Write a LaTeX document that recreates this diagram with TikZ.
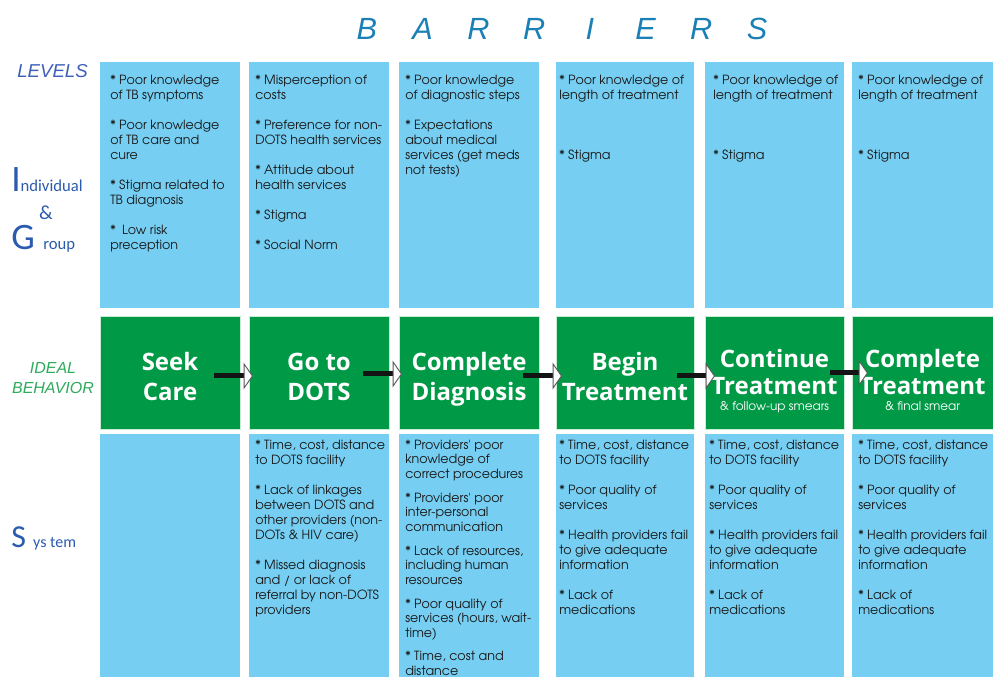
\documentclass[tikz,border=0pt]{standalone}
\usepackage{fontspec}
\usetikzlibrary{arrows.meta,fit}
\newfontfamily\bodyf{TeX Gyre Adventor}
\newfontfamily\headf{Open Sans}
\newfontfamily\titlef{Liberation Sans}
\newfontfamily\labf{Carlito}
\definecolor{boxblue}{RGB}{118,207,243}
\definecolor{boxgreen}{RGB}{0,154,70}
\definecolor{greenedge}{RGB}{200,235,212}
\definecolor{titleblue}{RGB}{27,128,181}
\definecolor{levblue}{RGB}{62,95,184}
\definecolor{labblue}{RGB}{43,91,174}
\definecolor{idealgreen}{RGB}{46,170,92}
\definecolor{arrowgray}{RGB}{90,90,90}
\newcommand\ltrcell[1]{\makebox[41.8pt]{#1}}
\begin{document}
\begin{tikzpicture}[x=0.75pt,y=-0.75pt,
  cellblue/.style={fill=boxblue, draw=none, inner sep=0pt},
  cellgreen/.style={fill=boxgreen, draw=greenedge, line width=0.75pt, inner sep=0pt},
  bodytext/.style={anchor=north west, inner sep=0pt, align=left, text=black!90,
     font={\bodyf\fontsize{9.5}{11.25}\selectfont}},
  bodytight/.style={bodytext, font={\bodyf\fontsize{9.5}{10.9}\selectfont}},
  headtext/.style={anchor=north, inner sep=0pt, align=center, text=white,
     font={\headf\bfseries\fontsize{18}{22.5}\selectfont}},
  headthree/.style={headtext, font={\headf\bfseries\fontsize{18}{20.5}\selectfont}},
  subtext/.style={anchor=base, inner sep=0pt, text=white, font={\bodyf\fontsize{9}{10}\selectfont}},
  flowarrow/.style={line width=3.75pt, draw=black!92,
     -{Triangle[length=7pt, width=20pt, fill=white, line width=0.7pt, color=arrowgray]}}
]
\useasboundingbox (0,0) rectangle (993,677);

% title
\node[anchor=base, inner sep=0pt, text=titleblue, font={\titlef\itshape\fontsize{23}{23}\selectfont}] (title) at (562,40)
  {\ltrcell{B}\ltrcell{A}\ltrcell{R}\ltrcell{R}\ltrcell{I}\ltrcell{E}\ltrcell{R}\ltrcell{S}};

% left labels
\node[anchor=base west, inner sep=0pt, text=levblue, font={\titlef\itshape\fontsize{14}{14}\selectfont}] (levels) at (17,78) {LEVELS};
\node[anchor=base west, inner sep=0pt, text=labblue, font=\labf] (indiv) at (11,192)
  {{\fontsize{28}{28}\selectfont I}{\fontsize{12.5}{12.5}\selectfont ndividual}};
\node[anchor=base, inner sep=0pt, text=labblue, font={\labf\fontsize{15}{15}\selectfont}] (amp) at (46,220) {\&};
\node[anchor=base west, inner sep=0pt, text=labblue, font=\labf] (group) at (11,250)
  {{\fontsize{28}{28}\selectfont G }{\fontsize{12.5}{12.5}\selectfont roup}};
\node[anchor=north, inner sep=0pt, align=center, text=idealgreen, font={\titlef\itshape\fontsize{12}{15}\selectfont}] (ideal) at (53,359)
  {\strut IDEAL\\BEHAVIOR};
\node[anchor=base west, inner sep=0pt, text=labblue, font=\labf] (system) at (11,547)
  {{\fontsize{24}{24}\selectfont S }{\fontsize{12}{12}\selectfont ys tem}};

% top row boxes
\node[cellblue, fit={(100,62) (240,308)}] (t1) {};
\node[cellblue, fit={(249,62) (389,308)}] (t2) {};
\node[cellblue, fit={(399,62) (539,308)}] (t3) {};
\node[cellblue, fit={(556,62) (694,308)}] (t4) {};
\node[cellblue, fit={(705,62) (844,308)}] (t5) {};
\node[cellblue, fit={(852,62) (995,308)}] (t6) {};
% green row
\node[cellgreen, fit={(100,317) (240,429)}] (g1) {};
\node[cellgreen, fit={(249,317) (389,429)}] (g2) {};
\node[cellgreen, fit={(399,317) (539,429)}] (g3) {};
\node[cellgreen, fit={(556,317) (694,429)}] (g4) {};
\node[cellgreen, fit={(705,317) (844,429)}] (g5) {};
\node[cellgreen, fit={(852,317) (998,429)}] (g6) {};
% bottom row
\node[cellblue, fit={(100,434) (240,682)}] (b1) {};
\node[cellblue, fit={(249,434) (389,682)}] (b2) {};
\node[cellblue, fit={(399,434) (539,682)}] (b3) {};
\node[cellblue, fit={(556,434) (694,682)}] (b4) {};
\node[cellblue, fit={(705,434) (844,682)}] (b5) {};
\node[cellblue, fit={(852,434) (995,682)}] (b6) {};

% top texts
\node[bodytext] (tt1) at (110,73.5) {\strut * Poor knowledge\\of TB symptoms\\[11.25pt]* Poor knowledge\\of TB care and\\cure\\[11.25pt]* Stigma related to\\TB diagnosis\\[11.25pt]*\enspace Low risk\\preception};
\node[bodytext] (tt2) at (255,73.5) {\strut * Misperception of\\costs\\[11.25pt]* Preference for non-\\DOTS health services\\[11.25pt]* Attitude about\\health services\\[11.25pt]* Stigma\\[11.25pt]* Social Norm};
\node[bodytext] (tt3) at (405,73.5) {\strut * Poor knowledge\\of diagnostic steps\\[11.25pt]* Expectations\\about medical\\services (get meds\\not tests)};
\node[bodytext] (tt4) at (559,73.5) {\strut * Poor knowledge of\\length of treatment\\[33.75pt]* Stigma};
\node[bodytext] (tt5) at (713,73.5) {\strut * Poor knowledge of\\length of treatment\\[33.75pt]* Stigma};
\node[bodytext] (tt6) at (858,73.5) {\strut * Poor knowledge of\\length of treatment\\[33.75pt]* Stigma};

% green texts
\node[headtext] (h1) at (170,349.5) {\strut Seek\\Care};
\node[headtext] (h2) at (319,349.5) {\strut Go to\\DOTS};
\node[headtext] (h3) at (469,349.5) {\strut Complete\\Diagnosis};
\node[headtext] (h4) at (625,349.5) {\strut Begin\\Treatment};
\node[headthree] (h5) at (774.5,348) {\strut Continue\\Treatment};
\node[headthree] (h6) at (922.5,348) {\strut Complete\\Treatment};
\node[subtext] (s5) at (774.5,410.5) {\& follow-up smears};
\node[subtext] (s6) at (922.5,410.5) {\& final smear};

% bottom texts
\node[bodytext] (bt2) at (255,438.5) {\strut * Time, cost, distance\\to DOTS facility\\[11.25pt]* Lack of linkages\\between DOTS and\\other providers (non-\\DOTs \& HIV care)\\[11.25pt]* Missed diagnosis\\and / or lack of\\referral by non-DOTS\\providers};
\node[bodytight] (bt3) at (405,438.8) {\strut * Providers' poor\\knowledge of\\correct procedures\\[7pt]* Providers' poor\\inter-personal\\communication\\[7pt]* Lack of resources,\\including human\\resources\\[7pt]* Poor quality of\\services (hours, wait-\\time)\\[7pt]* Time, cost and\\distance};
\node[bodytext] (bt4) at (559,438.5) {\strut * Time, cost, distance\\to DOTS facility\\[11.25pt]* Poor quality of\\services\\[11.25pt]* Health providers fail\\to give adequate\\information\\[11.25pt]* Lack of\\medications};
\node[bodytext] (bt5) at (709,438.5) {\strut * Time, cost, distance\\to DOTS facility\\[11.25pt]* Poor quality of\\services\\[11.25pt]* Health providers fail\\to give adequate\\information\\[11.25pt]* Lack of\\medications};
\node[bodytext] (bt6) at (858,438.5) {\strut * Time, cost, distance\\to DOTS facility\\[11.25pt]* Poor quality of\\services\\[11.25pt]* Health providers fail\\to give adequate\\information\\[11.25pt]* Lack of\\medications};

% arrows
\coordinate (a1s) at (214,376); \coordinate (a1e) at (253,376);
\coordinate (a2s) at (363,374); \coordinate (a2e) at (402,374);
\coordinate (a3s) at (523,376); \coordinate (a3e) at (562,376);
\coordinate (a4s) at (677,376); \coordinate (a4e) at (715,376);
\coordinate (a5s) at (830,373); \coordinate (a5e) at (868,373);
\draw[flowarrow] (a1s) -- (a1e);
\draw[flowarrow] (a2s) -- (a2e);
\draw[flowarrow] (a3s) -- (a3e);
\draw[flowarrow] (a4s) -- (a4e);
\draw[flowarrow] (a5s) -- (a5e);
\end{tikzpicture}
\end{document}
